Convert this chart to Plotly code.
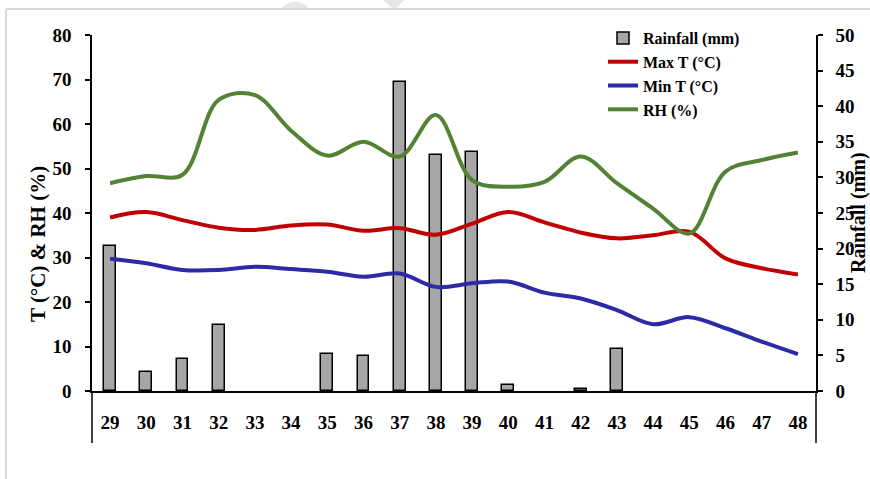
import math
import plotly.graph_objects as go

# Standard meteorological weeks
weeks = list(range(29, 49))

# Weekly weather observations
rainfall_mm = [20.4, 2.7, 4.5, 9.3, 0, 0, 5.2, 4.9, 43.4, 33.2,
               33.6, 0.9, 0, 0.3, 5.9, 0, 0, 0, 0, 0]
max_t = [39.0, 40.2, 38.4, 36.7, 36.2, 37.2, 37.4, 36.0, 36.6, 35.1,
         37.6, 40.2, 37.9, 35.6, 34.3, 35.0, 35.8, 29.8, 27.6, 26.2]
min_t = [29.7, 28.7, 27.2, 27.2, 27.9, 27.4, 26.8, 25.7, 26.4, 23.4,
         24.2, 24.6, 22.1, 20.8, 18.2, 15.0, 16.6, 14.1, 11.1, 8.3]
rh = [46.7, 48.3, 48.6, 65.4, 66.5, 58.5, 52.9, 56.0, 52.7, 62.0,
      47.4, 45.9, 47.0, 52.7, 46.7, 41.0, 35.4, 49.3, 51.9, 53.6]

# Axis ticks
left_ticks = list(range(0, 81, 10))
right_ticks = list(range(0, 51, 5))

FONT = "Liberation Serif"
W, H = 870, 479
ML, MR, MT, MB = 92, 54, 35, 88
PW, PH = W - ML - MR, H - MT - MB


def px_x(x):
    return (x - ML) / PW


def px_y(y):
    return (H - MB - y) / PH


fig = go.Figure()

# weeks without rain get no bar at all
fig.add_trace(go.Bar(
    x=weeks, y=[v if v > 0 else None for v in rainfall_mm],
    name="Rainfall (mm)", yaxis="y", width=0.33,
    marker=dict(color="#A6A6A6", line=dict(color="black", width=1.5)),
))
fig.add_trace(go.Scatter(
    x=weeks, y=max_t, name="Max T (°C)", yaxis="y2", mode="lines",
    line=dict(color="#C00000", width=4, shape="spline", smoothing=1),
))
fig.add_trace(go.Scatter(
    x=weeks, y=min_t, name="Min T (°C)", yaxis="y2", mode="lines",
    line=dict(color="#2B2BA8", width=4, shape="spline", smoothing=1),
))
fig.add_trace(go.Scatter(
    x=weeks, y=rh, name="RH (%)", yaxis="y2", mode="lines",
    line=dict(color="#548235", width=4, shape="spline", smoothing=1),
))

tick_font = dict(family=FONT, size=19, color="black", weight="bold")
title_font = dict(family=FONT, size=21, color="black", weight="bold")

# small grey cap peeking above the frame
cx, cy, r = 295, 20, 18
cap = []
for i in range(0, 181, 10):
    a = math.radians(180 + i)
    px, py = cx + r * math.cos(a), cy + r * math.sin(a)
    cap.append((px, min(py, 9)))
cap_path = "M " + " L ".join(f"{px_x(a)} {px_y(b)}" for a, b in cap) + " Z"

ext = -52 / PH
shapes = [
    # axis lines continued below the category labels
    dict(type="line", xref="paper", yref="paper", x0=0, x1=0, y0=ext, y1=0,
         line=dict(color="black", width=1.5)),
    dict(type="line", xref="paper", yref="paper", x0=1, x1=1, y0=ext, y1=0,
         line=dict(color="black", width=1.5)),
    # outer chart frame
    dict(type="line", xref="paper", yref="paper", x0=px_x(6), x1=px_x(880),
         y0=px_y(9), y1=px_y(9), line=dict(color="#D9D9D9", width=2)),
    dict(type="line", xref="paper", yref="paper", x0=px_x(6), x1=px_x(6),
         y0=px_y(9), y1=px_y(490), line=dict(color="#D9D9D9", width=2)),
    # light decorative marks above the frame
    dict(type="path", xref="paper", yref="paper", path=cap_path,
         fillcolor="#E6E6E6", line=dict(width=0), layer="below"),
    dict(type="path", xref="paper", yref="paper",
         path=f"M {px_x(381)} {px_y(-2)} L {px_x(407)} {px_y(-2)} L {px_x(396)} {px_y(8)} L {px_x(392)} {px_y(8)} Z",
         fillcolor="#E6E6E6", line=dict(width=0), layer="below"),
]

# axis titles placed as rotated annotations
annotations = [
    dict(text="T (°C) & RH (%)", textangle=-90, xref="paper", yref="paper",
         x=px_x(38), y=px_y(244), xanchor="center", yanchor="middle",
         showarrow=False, font=title_font),
    dict(text="Rainfall (mm)", textangle=-90, xref="paper", yref="paper",
         x=px_x(858), y=px_y(213), xanchor="center", yanchor="middle",
         showarrow=False, borderpad=0, font=dict(title_font, size=20)),
]

fig.update_layout(
    width=W, height=H,
    margin=dict(l=ML, r=MR, t=MT, b=MB, autoexpand=False),
    paper_bgcolor="white", plot_bgcolor="rgba(0,0,0,0)",
    showlegend=True,
    legend=dict(
        x=px_x(603), y=px_y(21), xanchor="left", yanchor="top",
        bgcolor="rgba(0,0,0,0)",
        font=dict(family=FONT, size=16, color="black", weight="bold"),
        tracegroupgap=0,
    ),
    bargap=0,
    xaxis=dict(
        range=[28.5, 48.5], tickmode="array", tickvals=weeks,
        ticktext=[str(w) for w in weeks], showgrid=False, zeroline=False,
        showline=True, linecolor="black", linewidth=1.5, ticks="",
        tickfont=tick_font, ticklabelstandoff=13,
    ),
    yaxis=dict(
        side="right", range=[0, 50], tickvals=right_ticks, showgrid=False,
        zeroline=False, showline=True, linecolor="black", linewidth=1.5,
        ticks="outside", ticklen=5, tickwidth=1.5, tickcolor="black",
        tickfont=tick_font, ticklabelstandoff=9,
    ),
    yaxis2=dict(
        side="left", overlaying="y", range=[0, 80], tickvals=left_ticks,
        showgrid=False, zeroline=False, showline=True, linecolor="black",
        linewidth=1.5, ticks="outside", ticklen=5, tickwidth=1.5,
        tickcolor="black", tickfont=tick_font, ticklabelstandoff=10,
    ),
    annotations=annotations,
    shapes=shapes,
)

fig.write_html("out.html")
